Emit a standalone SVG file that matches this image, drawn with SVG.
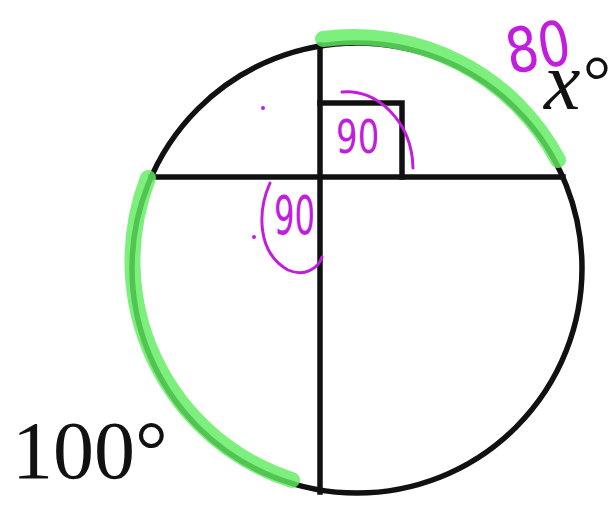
<svg xmlns="http://www.w3.org/2000/svg" width="616" height="508" viewBox="0 0 616 508">
<style>
.ink{fill:none;stroke:#111;stroke-width:5.5;stroke-linecap:square}
.hl{fill:none;stroke:#5fec5f;stroke-width:16;stroke-linecap:round;opacity:0.82}
.pen{fill:none;stroke:#c21ce0;stroke-width:3;stroke-linecap:round}
.hand{fill:#c21ce0;font-family:"DejaVu Sans",sans-serif}
.lbl{fill:#111;font-family:"Liberation Serif",serif}
</style>
<rect width="616" height="508" fill="#fff"/>
<g id="figure">
<circle class="ink" cx="357" cy="268" r="225"/>
<line class="ink" x1="151" y1="177" x2="563" y2="177"/>
<line class="ink" x1="320" y1="45" x2="320" y2="492"/>
<polyline class="ink" stroke-width="4.5" points="320,103 402,103 402,177"/>
</g>
<g id="highlights">
<path class="hl" d="M323,39 A231,231 0 0 1 558,160"/>
<path class="hl" d="M148,178 A230,230 0 0 0 292,480"/>
</g>
<g id="labels">
<text class="lbl" x="544" y="109" font-size="82" font-style="italic">x</text>
<text class="lbl" x="583" y="104" font-size="70">°</text>
<text class="lbl" x="12" y="478" font-size="82">100°</text>
</g>
<g id="handwriting">
<path class="pen" d="M342,92 C375,88 412,120 413,168"/>
<path class="pen" d="M270,183 C258,210 256,252 288,270 C304,277 318,269 322,257"/>
<circle cx="263" cy="108" r="2" fill="#c21ce0"/>
<circle cx="254" cy="237" r="2" fill="#c21ce0"/>
<text class="hand" transform="translate(336,153) scale(0.74,1)" font-size="46">90</text>
<text class="hand" transform="translate(274,234) scale(0.6,1)" font-size="54">90</text>
<text class="hand" transform="translate(510,74) rotate(-10) scale(0.82,1)" font-size="62">80</text>
</g>
</svg>
